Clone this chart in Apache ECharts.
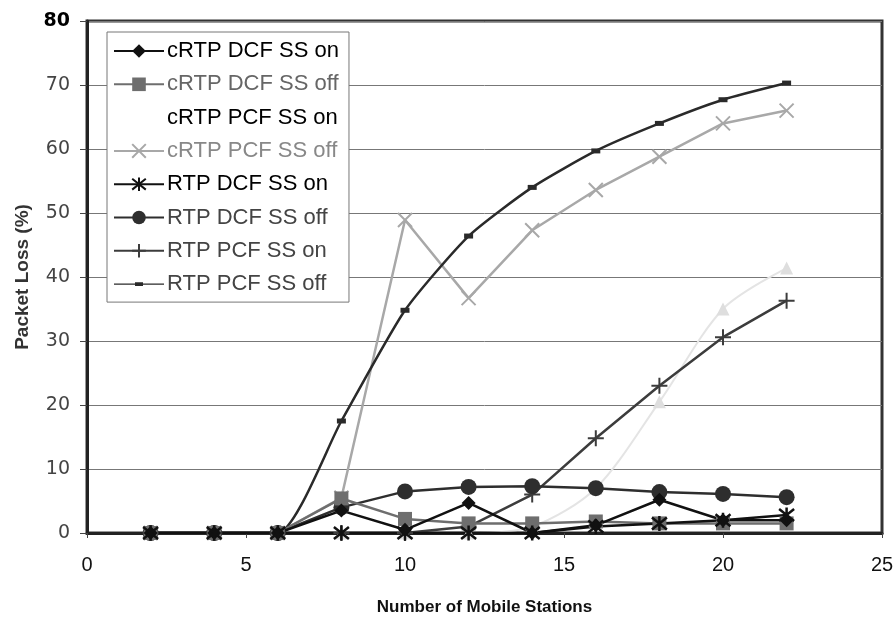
<!DOCTYPE html>
<html>
<head>
<meta charset="utf-8">
<script src="https://cdn.jsdelivr.net/npm/echarts@6/dist/echarts.min.js"></script>
<style>
html,body{margin:0;padding:0;background:#fff;}
#chart{width:895px;height:617px;}
</style>
</head>
<body>
<div id="chart"></div>
<script>
// number of mobile stations
var stations = [2, 4, 6, 8, 10, 12, 14, 16, 18, 20, 22];

// packet loss (%) per series
var cRtpDcfOn  = [0, 0, 0, 3.5, 0.5, 4.7, 0, 1.2, 5.2, 2.0, 2.0];
var cRtpDcfOff = [0, 0, 0, 5.4, 2.2, 1.5, 1.5, 1.8, 1.5, 1.5, 1.5];
var cRtpPcfOn  = [0, 0, 0, 0, 0, 0, 1.0, 7.0, 20.5, 35.0, 41.4];
var cRtpPcfOff = [0, 0, 0, 5.5, 48.9, 36.7, 47.3, 53.6, 58.8, 64.0, 66.0];
var rtpDcfOn   = [0, 0, 0, 0, 0, 0, 0, 1.0, 1.5, 2.0, 2.8];
var rtpDcfOff  = [0, 0, 0, 4.0, 6.5, 7.2, 7.3, 7.0, 6.4, 6.1, 5.6];
var rtpPcfOn   = [0, 0, 0, 0, 0, 1.0, 6.0, 14.8, 23.0, 30.6, 36.3];
var rtpPcfOff  = [0, 0, 0, 17.5, 34.8, 46.4, 54.0, 59.7, 64.0, 67.7, 70.3];

var xTicks = [0, 5, 10, 15, 20, 25];
var yTicks = [0, 10, 20, 30, 40, 50, 60, 70, 80];

function pairs(vals){
	var out = [];
	for(var i=0;i<stations.length;i++){
		out.push([stations[i], vals[i]]);
	}
	return out;
}

var X_PATH = 'path://M0,0L10,10M10,0L0,10';
var STAR_PATH = 'path://M0,1L10,9M10,1L0,9M5,0L5,10';
var PLUS_PATH = 'path://M5,0L5,10M0,5L10,5';
var DASH_ICON = 'path://M0,4.4H50V5.6H0Z M21,3.2H29V6.8H21Z';

function mkSeries(name, vals, color, symbol, size, opts){
	var s = {
		name: name,
		type: 'line',
		data: pairs(vals),
		symbol: symbol,
		symbolSize: size,
		showAllSymbol: true,
		lineStyle: {color: color, width: 2.5},
		itemStyle: {color: color, borderColor: color, borderWidth: 0},
		emphasis: {disabled: true}
	};
	if(opts){
		for(var k in opts){ s[k] = opts[k]; }
	}
	return s;
}

var seriesList = [
	mkSeries('cRTP PCF SS on', cRtpPcfOn, '#dedede', 'triangle', 13, {smooth: 0.3, lineStyle: {color: '#e4e4e4', width: 2}}),
	mkSeries('cRTP PCF SS off', cRtpPcfOff, '#a8a8a8', X_PATH, 14, {lineStyle: {color: '#a8a8a8', width: 2.5}, itemStyle: {color: '#a8a8a8', borderColor: '#a8a8a8', borderWidth: 2}}),
	mkSeries('RTP PCF SS off', rtpPcfOff, '#2a2a2a', 'rect', [9, 5], {smooth: 0.2}),
	mkSeries('RTP PCF SS on', rtpPcfOn, '#3c3c3c', PLUS_PATH, 16, {itemStyle: {color: '#3c3c3c', borderColor: '#3c3c3c', borderWidth: 2}}),
	mkSeries('RTP DCF SS off', rtpDcfOff, '#2e2e2e', 'circle', 16),
	mkSeries('cRTP DCF SS off', cRtpDcfOff, '#6e6e6e', 'rect', 14),
	mkSeries('cRTP DCF SS on', cRtpDcfOn, '#111111', 'diamond', 14),
	mkSeries('RTP DCF SS on', rtpDcfOn, '#111111', STAR_PATH, 15, {itemStyle: {color: '#111', borderColor: '#111', borderWidth: 2.5}})
];

var legendNames = [
	{name: 'cRTP DCF SS on', textStyle: {color: '#000'}},
	{name: 'cRTP DCF SS off', textStyle: {color: '#666'}},
	{name: 'cRTP PCF SS on', textStyle: {color: '#000'}, icon: 'none'},
	{name: 'cRTP PCF SS off', textStyle: {color: '#888'}},
	{name: 'RTP DCF SS on', textStyle: {color: '#000'}},
	{name: 'RTP DCF SS off', textStyle: {color: '#444'}},
	{name: 'RTP PCF SS on', textStyle: {color: '#444'}},
	{name: 'RTP PCF SS off', textStyle: {color: '#444'}, icon: DASH_ICON}
];

var myChart = echarts.init(document.getElementById('chart'), null, {renderer: 'canvas'});
var option = {
	animation: false,
	backgroundColor: '#fff',
	textStyle: {fontFamily: 'Liberation Sans, Arial, sans-serif'},
	grid: {
		left: 87, right: 13, top: 21, bottom: 84,
		outerBoundsMode: 'none',
		containLabel: false,
		show: true, borderColor: '#333', borderWidth: 3, backgroundColor: 'transparent'
	},
	legend: {
		orient: 'vertical',
		left: 107, top: 32,
		padding: [8, 10, 7, 6],
		itemGap: 11.3,
		itemWidth: 50,
		itemHeight: 17,
		backgroundColor: '#fff',
		borderColor: '#777',
		borderWidth: 1,
		borderRadius: 0,
		selectedMode: false,
		textStyle: {fontSize: 22, lineHeight: 22, fontFamily: 'Liberation Sans, Arial, sans-serif', padding: [0, 0, 0, -2]},
		data: legendNames
	},
	xAxis: {
		type: 'value',
		min: xTicks[0], max: xTicks[xTicks.length - 1], interval: 5,
		name: 'Number of Mobile Stations',
		nameLocation: 'middle',
		nameGap: 66,
		nameTextStyle: {fontSize: 17, fontWeight: 'bold', color: '#111'},
		axisLine: {lineStyle: {color: '#222', width: 3}},
		axisTick: {show: true, length: 5, lineStyle: {color: '#444'}},
		axisLabel: {fontSize: 20, color: '#111', margin: 22},
		splitLine: {show: false}
	},
	yAxis: {
		type: 'value',
		min: yTicks[0], max: yTicks[yTicks.length - 1], interval: 10,
		name: 'Packet Loss (%)',
		nameLocation: 'middle',
		nameGap: 55,
		nameTextStyle: {fontSize: 19, fontWeight: 'bold', color: '#333'},
		axisLine: {show: true, lineStyle: {color: '#222', width: 3}},
		axisTick: {show: true, inside: false, length: 7, lineStyle: {color: '#444'}},
		axisLabel: {
			margin: 17,
			formatter: function(v){ return v === 80 ? '{top|' + v + '}' : '{n|' + v + '}'; },
			rich: {
				n: {fontSize: 19, color: '#444', fontFamily: 'DejaVu Sans'},
				top: {fontSize: 19, color: '#000', fontWeight: 'bold', fontFamily: 'DejaVu Sans'}
			}
		},
		splitLine: {show: true, lineStyle: {color: '#777', width: 1}}
	},
	series: seriesList
};
myChart.setOption(option);
</script>
</body>
</html>
